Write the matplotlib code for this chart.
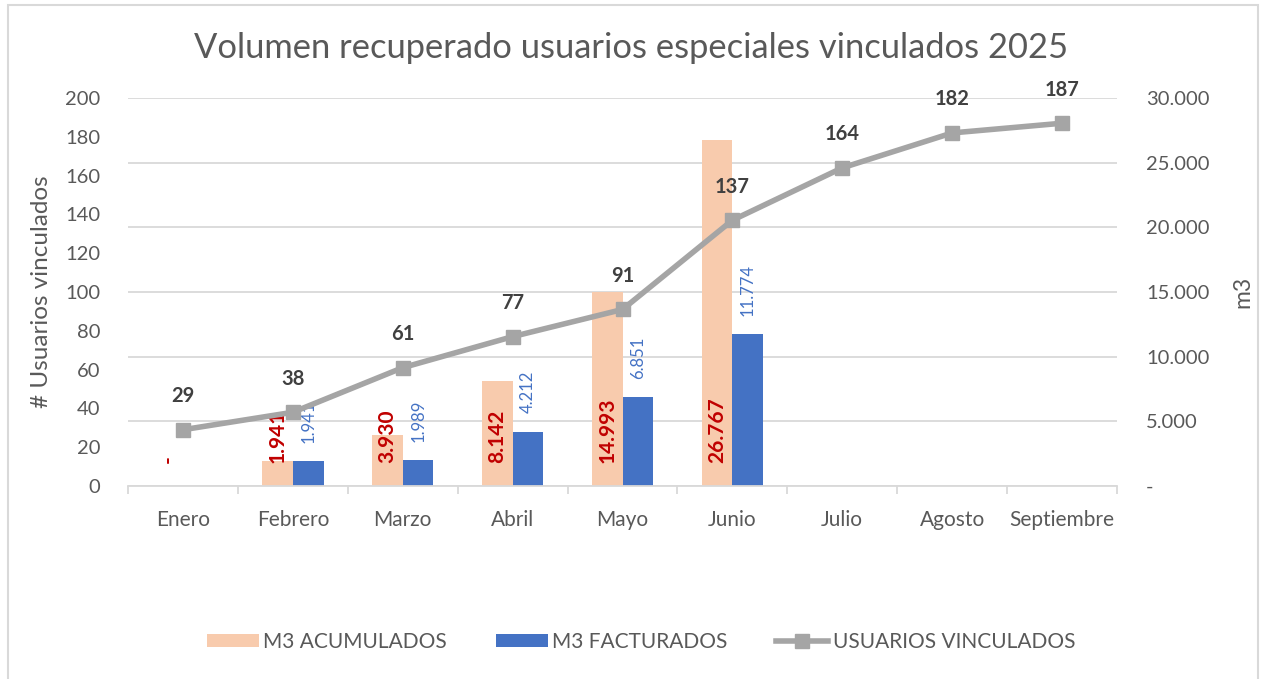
import matplotlib
matplotlib.use('Agg')
import matplotlib.pyplot as plt
from matplotlib.patches import Patch, Rectangle
from matplotlib.lines import Line2D
from matplotlib.ticker import FuncFormatter, FixedLocator

plt.rcParams['font.family'] = ['Lato', 'DejaVu Sans']

# monthly figures for 2025
meses = ['Enero', 'Febrero', 'Marzo', 'Abril', 'Mayo', 'Junio', 'Julio', 'Agosto', 'Septiembre']
m3_acumulados = [0, 1941, 3930, 8142, 14993, 26767]
m3_facturados = [None, 1941, 1989, 4212, 6851, 11774]
usuarios_vinculados = [29, 38, 61, 77, 91, 137, 164, 182, 187]

PEACH = '#F8CBAD'
BLUE = '#4472C4'
GREY_LINE = '#A5A5A5'
RED = '#C00000'
TEXT = '#595959'


def miles(v):
    """ Excel style thousands format: 5.000, zero shown as a dash."""
    v = int(round(v))
    if v == 0:
        return '-'
    return f'{v:,}'.replace(',', '.')


fig = plt.figure(figsize=(12.62, 6.79), dpi=100)

# chart area border
fig.patches.append(Rectangle((8 / 1262, -0.05), 1250 / 1262, 1 - 5 / 679 + 0.05, transform=fig.transFigure,
                             fill=False, edgecolor='#D9D9D9', linewidth=1.5))

ax = fig.add_axes([128 / 1262, 1 - 486 / 679, (1117 - 128) / 1262, (486 - 98) / 679])
ax2 = ax.twinx()

# bars on the m3 axis
x = list(range(len(meses)))
w = 0.28
xa = [i - w / 2 for i in range(len(m3_acumulados))]
xf = [i + w / 2 for i in range(len(m3_facturados)) if m3_facturados[i] is not None]
vf = [v for v in m3_facturados if v is not None]
ax2.bar(xa, m3_acumulados, width=w, color=PEACH, zorder=2)
ax2.bar(xf, vf, width=w, color=BLUE, zorder=2)

for xi, v in zip(xa, m3_acumulados):
    ax2.annotate(miles(v), (xi, 0), xytext=(0, 16.5), textcoords='offset points', rotation=90,
                 ha='center', va='bottom', color=RED, fontsize=15, fontweight='bold', zorder=5)
for xi, v in zip(xf, vf):
    ax2.annotate(miles(v), (xi, v), xytext=(0, 13), textcoords='offset points', rotation=90,
                 ha='center', va='bottom', color=BLUE, fontsize=12, zorder=5)

ax2.set_ylim(0, 30000)
ax2.yaxis.set_major_locator(FixedLocator(range(0, 30001, 5000)))
ax2.yaxis.set_major_formatter(FuncFormatter(lambda v, p: miles(v)))
ax2.grid(axis='y', color='#D9D9D9', linewidth=1.3, zorder=0)
ax2.set_ylabel('m3', color=TEXT, fontsize=16.5, labelpad=16)

# users line on the left axis, drawn above the bars
ax.set_zorder(ax2.get_zorder() + 1)
ax.patch.set_visible(False)
ax.plot(x, usuarios_vinculados, color=GREY_LINE, linewidth=4, marker='s', markersize=10,
        solid_capstyle='round', zorder=4)
for xi, v in zip(x, usuarios_vinculados):
    ax.annotate(str(v), (xi, v), xytext=(0, 17), textcoords='offset points', ha='center', va='bottom',
                color='#404040', fontsize=14.5, fontweight='bold')

ax.set_ylim(0, 200)
ax.set_yticks(range(0, 201, 20))
ax.set_ylabel('# Usuarios vinculados', color=TEXT, fontsize=17.5, labelpad=9)
ax.set_xlim(-0.5, len(meses) - 0.5)
ax.set_xticks(x)
ax.set_xticklabels(meses)
ax.set_xticks([i - 0.5 for i in range(len(meses) + 1)], minor=True)
ax.tick_params(axis='x', which='major', length=0, pad=17, labelsize=15, labelcolor=TEXT)
ax.tick_params(axis='x', which='minor', length=6, color='#D9D9D9', width=1.3)
ax.tick_params(axis='y', length=0, pad=20, labelsize=14.5, labelcolor=TEXT)
ax2.tick_params(axis='y', length=0, pad=21, labelsize=14.5, labelcolor=TEXT)
ax2.tick_params(axis='x', length=0)

for a in (ax, ax2):
    for s in ('top', 'left', 'right'):
        a.spines[s].set_visible(False)
ax.spines['bottom'].set_color('#D9D9D9')
ax.spines['bottom'].set_linewidth(1.3)
ax2.spines['bottom'].set_visible(False)

fig.text(0.5, 1 - 48 / 679, 'Volumen recuperado usuarios especiales vinculados 2025', ha='center', va='center',
         fontsize=24.8, color=TEXT)

handles = [Patch(facecolor=PEACH), Patch(facecolor=BLUE),
           Line2D([], [], color=GREY_LINE, linewidth=4, marker='s', markersize=10)]
fig.legend(handles, ['M3 ACUMULADOS', 'M3 FACTURADOS', 'USUARIOS VINCULADOS'], loc='center',
           bbox_to_anchor=(641 / 1262, 1 - 642 / 679), ncol=3, frameon=False, fontsize=15, labelcolor=TEXT,
           handlelength=2.5, handleheight=0.63, handletextpad=0.2, columnspacing=2.35)

fig.savefig('out.png', dpi=100)
